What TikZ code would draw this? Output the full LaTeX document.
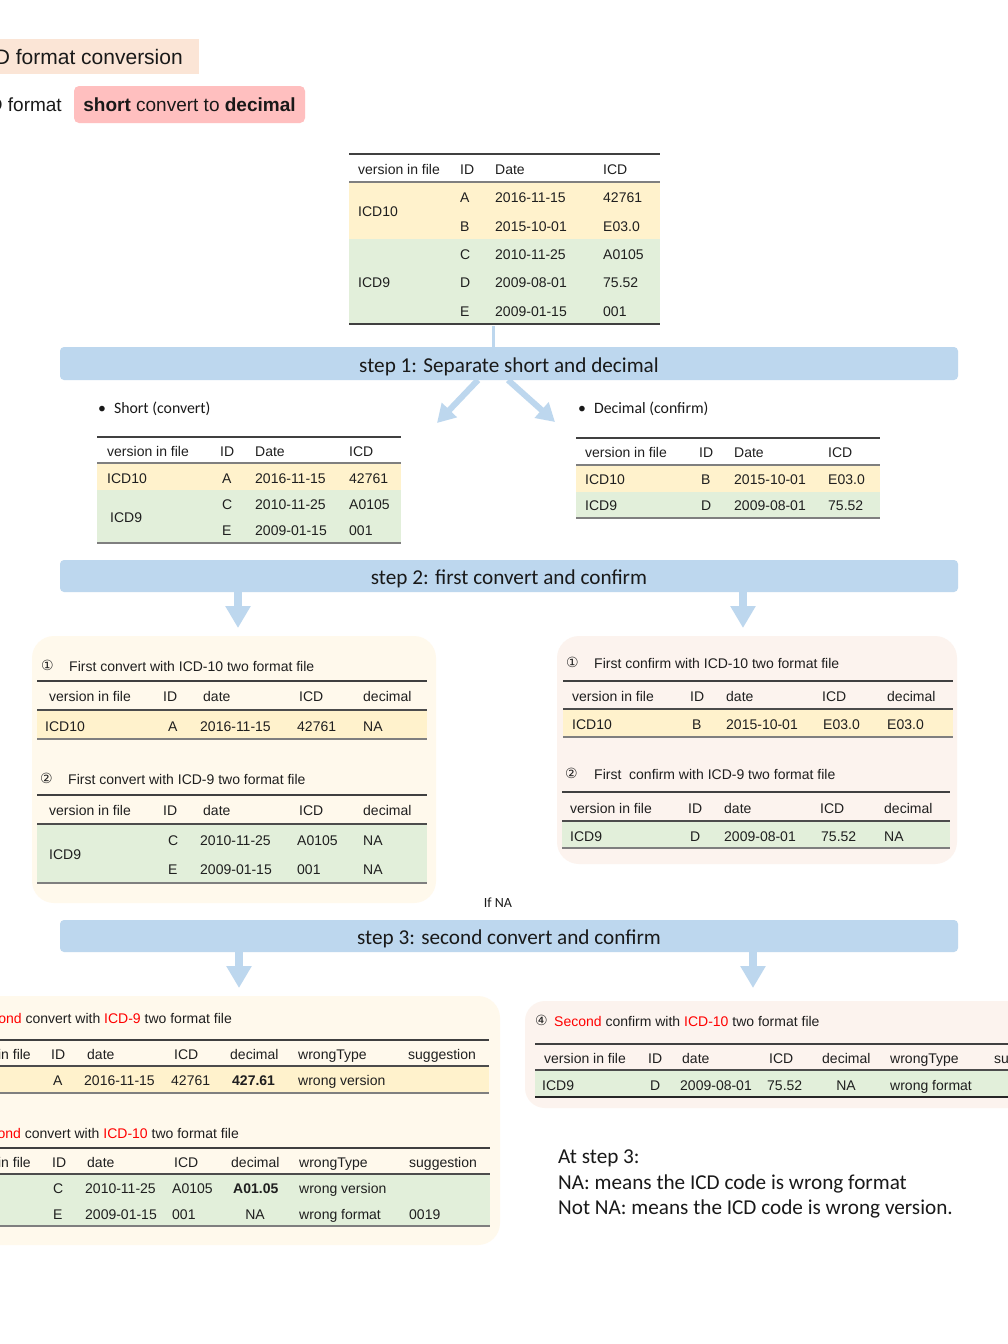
\documentclass[tikz,border=0pt]{standalone}
\usepackage{fontspec}
\setmainfont{Liberation Sans}
\newfontfamily\calfont{Carlito}
\newfontfamily\djfont{DejaVu Sans}
\usetikzlibrary{arrows.meta}
\definecolor{barblue}{HTML}{BDD7EE}
\definecolor{rowyel}{HTML}{FFF2CC}
\definecolor{rowgrn}{HTML}{E2EFDA}
\definecolor{panelcream}{HTML}{FFF9EC}
\definecolor{panelpeach}{HTML}{FCF3EE}
\definecolor{titlepeach}{HTML}{FBE5D6}
\definecolor{pinkbox}{HTML}{FFBFBF}
\definecolor{redtxt}{HTML}{FF0000}
\definecolor{ruledark}{HTML}{404040}
\definecolor{rulegray}{HTML}{7F7F7F}
\newcounter{cellno}
\newcommand\tc[3]{\stepcounter{cellno}\node[cell] (c\arabic{cellno}) at (#1,#2) {#3};}
\newcommand\tcc[3]{\stepcounter{cellno}\node[cell,anchor=center] (c\arabic{cellno}) at (#1,#2) {#3};}
\newcommand\tce[3]{\stepcounter{cellno}\node[cell,anchor=east] (c\arabic{cellno}) at (#1,#2) {#3};}
\newcommand\rd[1]{\textcolor{redtxt}{#1}}
\tikzset{
  cell/.style={anchor=west, inner sep=0pt, text height=10pt, text depth=0pt,
    font=\fontsize{14}{16}\selectfont, text=black!88},
  circ/.style={anchor=west, inner sep=0pt, text height=9pt, text depth=0pt,
    font=\djfont\fontsize{14}{16}\selectfont, text=black!85},
  toprule/.style={draw=ruledark, line width=1.3pt},
  headrule/.style={draw=black!70, line width=1.5pt},
  botrule/.style={draw=rulegray, line width=2.5pt},
  stepbar/.style={fill=barblue, rounded corners=4pt, minimum width=898pt,
    minimum height=33pt, inner sep=0pt, text height=17pt, text depth=0pt,
    font=\calfont\fontsize{21.2}{25}\selectfont, text=black!90},
  downarrow/.style={draw=barblue, line width=8pt, -{Triangle[width=24pt,length=22pt]}},
  diagarrow/.style={draw=barblue, line width=6pt, -{Triangle[width=20pt,length=18pt]}},
  bul/.style={anchor=west, inner sep=0pt, font=\calfont\fontsize{15.8}{18}\selectfont, text=black!90},
  note/.style={anchor=base west, inner sep=0pt, font=\calfont\fontsize{21.2}{25}\selectfont, text=black!90},
}
\begin{document}
\begin{tikzpicture}[x=1pt,y=-1pt]
\useasboundingbox (0,0) rectangle (1008,1344);
\clip (0,0) rectangle (1008,1344);
\fill[white] (0,0) rectangle (1008,1344);

% ---------- title ----------
\fill[titlepeach] (0,39) rectangle (199,74);
\node[anchor=base east, inner sep=0pt, font=\fontsize{21}{24}\selectfont, text=black!90] (title) at (183,64.5) {ICD format conversion};
\node[anchor=base east, inner sep=0pt, font=\fontsize{19}{22}\selectfont, text=black!90] (fmt) at (62,111) {ICD format};
\node[fill=pinkbox, rounded corners=5pt, minimum width=231pt, minimum height=37pt, inner sep=0pt,
  font=\fontsize{19}{22}\selectfont, text=black!90] (pink) at (189.5,104.5) {\textbf{short} convert to \textbf{decimal}};

% ---------- top table ----------
\fill[rowyel] (349,182) rectangle (660,239);
\fill[rowgrn] (349,239) rectangle (660,324);
\draw[toprule] (349,154) -- (660,154);
\draw[headrule,draw=rulegray] (349,182) -- (660,182);
\draw[botrule,draw=ruledark] (349,324) -- (660,324);
\tc{358}{169}{version in file}\tc{460}{169}{ID}\tc{495}{169}{Date}\tc{603}{169}{ICD}
\tc{358}{211}{ICD10}\tc{358}{282}{ICD9}
\tc{460}{197}{A}\tc{495}{197}{2016-11-15}\tc{603}{197}{42761}
\tc{460}{226}{B}\tc{495}{226}{2015-10-01}\tc{603}{226}{E03.0}
\tc{460}{254}{C}\tc{495}{254}{2010-11-25}\tc{603}{254}{A0105}
\tc{460}{282}{D}\tc{495}{282}{2009-08-01}\tc{603}{282}{75.52}
\tc{460}{311}{E}\tc{495}{311}{2009-01-15}\tc{603}{311}{001}

% ---------- step 1 ----------
\node[stepbar] (s1) at (509,363.5) {step 1: Separate short and decimal};
\coordinate (tblbot) at (493,326);
\draw[barblue, line width=3pt] (tblbot) -- (tblbot |- s1.north);
\coordinate (d1s) at (478,380);
\coordinate (d1t) at (437,423);
\coordinate (d2s) at (508,380);
\coordinate (d2t) at (555,422);
\draw[diagarrow] (d1s) -- (d1t);
\draw[diagarrow] (d2s) -- (d2t);
\node[bul] (b1) at (98,409) {\textbullet\hspace{8pt}Short (convert)};
\node[bul] (b2) at (578,409) {\textbullet\hspace{8pt}Decimal (confirm)};

% ---------- short table ----------
\fill[rowyel] (97,463) rectangle (401,490);
\fill[rowgrn] (97,490) rectangle (401,543);
\draw[toprule] (97,437) -- (401,437);
\draw[headrule,draw=rulegray] (97,463) -- (401,463);
\draw[botrule] (97,543) -- (401,543);
\tc{107}{451}{version in file}\tc{220}{451}{ID}\tc{255}{451}{Date}\tc{349}{451}{ICD}
\tc{107}{478}{ICD10}\tc{222}{478}{A}\tc{255}{478}{2016-11-15}\tc{349}{478}{42761}
\tc{110}{517}{ICD9}
\tc{222}{504}{C}\tc{255}{504}{2010-11-25}\tc{349}{504}{A0105}
\tc{222}{530}{E}\tc{255}{530}{2009-01-15}\tc{349}{530}{001}

% ---------- decimal table ----------
\fill[rowyel] (576,465) rectangle (880,492);
\fill[rowgrn] (576,492) rectangle (880,518);
\draw[toprule] (576,438) -- (880,438);
\draw[headrule,draw=rulegray] (576,465) -- (880,465);
\draw[botrule] (576,518) -- (880,518);
\tc{585}{452}{version in file}\tc{699}{452}{ID}\tc{734}{452}{Date}\tc{828}{452}{ICD}
\tc{585}{479}{ICD10}\tc{701}{479}{B}\tc{734}{479}{2015-10-01}\tc{828}{479}{E03.0}
\tc{585}{505}{ICD9}\tc{701}{505}{D}\tc{734}{505}{2009-08-01}\tc{828}{505}{75.52}

% ---------- step 2 ----------
\node[stepbar, minimum height=32pt] (s2) at (509,576) {step 2: first convert and confirm};
\coordinate (a2l) at (238,628);
\coordinate (a2r) at (743,628);
\draw[downarrow] (a2l |- s2.south) -- (a2l);
\draw[downarrow] (a2r |- s2.south) -- (a2r);

% ---------- left panel (step 2) ----------
\fill[panelcream, rounded corners=22pt] (32,636) rectangle (436,903);
\node[circ] (n1) at (41,666) {①};
\tc{69}{666}{First convert with ICD-10 two format file}
\fill[rowyel] (37,710) rectangle (427,739);
\draw[toprule] (37,681) -- (427,681);
\draw[headrule] (37,710) -- (427,710);
\draw[botrule] (37,739) -- (427,739);
\tc{49}{696}{version in file}\tc{163}{696}{ID}\tc{203}{696}{date}\tc{299}{696}{ICD}\tc{363}{696}{decimal}
\tc{45}{726}{ICD10}\tc{168}{726}{A}\tc{200}{726}{2016-11-15}\tc{297}{726}{42761}\tc{363}{726}{NA}
\node[circ] (n2) at (40,779) {②};
\tc{68}{779}{First convert with ICD-9 two format file}
\fill[rowgrn] (37,824) rectangle (427,883);
\draw[toprule] (37,795) -- (427,795);
\draw[headrule] (37,824) -- (427,824);
\draw[botrule] (37,883) -- (427,883);
\tc{49}{810}{version in file}\tc{163}{810}{ID}\tc{203}{810}{date}\tc{299}{810}{ICD}\tc{363}{810}{decimal}
\tc{49}{854}{ICD9}
\tc{168}{840}{C}\tc{200}{840}{2010-11-25}\tc{297}{840}{A0105}\tc{363}{840}{NA}
\tc{168}{869}{E}\tc{200}{869}{2009-01-15}\tc{297}{869}{001}\tc{363}{869}{NA}

% ---------- right panel (step 2) ----------
\fill[panelpeach, rounded corners=22pt] (557,636) rectangle (957,864);
\node[circ] (n3) at (566,663) {①};
\tc{594}{663}{First confirm with ICD-10 two format file}
\fill[rowyel] (563,709) rectangle (953,737);
\draw[toprule] (563,681) -- (953,681);
\draw[headrule] (563,709) -- (953,709);
\draw[botrule] (563,737) -- (953,737);
\tc{572}{696}{version in file}\tc{690}{696}{ID}\tc{726}{696}{date}\tc{822}{696}{ICD}\tc{887}{696}{decimal}
\tc{572}{724}{ICD10}\tc{692}{724}{B}\tc{726}{724}{2015-10-01}\tc{823}{724}{E03.0}\tc{887}{724}{E03.0}
\node[circ] (n4) at (565,774) {②};
\tc{594}{774}{First\ \ confirm with ICD-9 two format file}
\fill[rowgrn] (562,821) rectangle (950,848);
\draw[toprule] (562,792) -- (950,792);
\draw[headrule] (562,821) -- (950,821);
\draw[botrule] (562,848) -- (950,848);
\tc{570}{808}{version in file}\tc{688}{808}{ID}\tc{724}{808}{date}\tc{820}{808}{ICD}\tc{884}{808}{decimal}
\tc{570}{836}{ICD9}\tc{690}{836}{D}\tc{724}{836}{2009-08-01}\tc{821}{836}{75.52}\tc{884}{836}{NA}

% ---------- step 3 ----------
\node[font=\calfont\fontsize{14}{16}\selectfont, inner sep=0pt, text=black!90] (ifna) at (498,903) {If NA};
\node[stepbar, minimum height=32pt] (s3) at (509,936) {step 3: second convert and confirm};
\coordinate (a3l) at (239,988);
\coordinate (a3r) at (753,988);
\draw[downarrow] (a3l |- s3.south) -- (a3l);
\draw[downarrow] (a3r |- s3.south) -- (a3r);

% ---------- bottom-left panel ----------
\fill[panelcream, rounded corners=22pt] (-40,996) rectangle (500,1245);
\tce{232}{1018}{\rd{Second} convert with \rd{ICD-9} two format file}
\fill[rowyel] (-10,1066) rectangle (489,1093);
\draw[toprule] (-10,1040) -- (489,1040);
\draw[headrule] (-10,1066) -- (489,1066);
\draw[botrule] (-10,1093) -- (489,1093);
\tce{31}{1054}{version in file}\tc{51}{1054}{ID}\tc{87}{1054}{date}\tc{174}{1054}{ICD}\tc{230}{1054}{decimal}\tc{298}{1054}{wrongType}\tc{408}{1054}{suggestion}
\tc{53}{1080}{A}\tc{84}{1080}{2016-11-15}\tc{171}{1080}{42761}\tc{232}{1080}{\textbf{427.61}}\tc{298}{1080}{wrong version}
\tce{239}{1133}{\rd{Second} convert with \rd{ICD-10} two format file}
\fill[rowgrn] (-10,1174) rectangle (490,1226);
\draw[toprule] (-10,1148) -- (490,1148);
\draw[headrule] (-10,1174) -- (490,1174);
\draw[botrule] (-10,1226) -- (490,1226);
\tce{31}{1162}{version in file}\tc{52}{1162}{ID}\tc{87}{1162}{date}\tc{174}{1162}{ICD}\tc{231}{1162}{decimal}\tc{299}{1162}{wrongType}\tc{409}{1162}{suggestion}
\tc{53}{1188}{C}\tc{85}{1188}{2010-11-25}\tc{172}{1188}{A0105}\tc{233}{1188}{\textbf{A01.05}}\tc{299}{1188}{wrong version}
\tc{53}{1214}{E}\tc{85}{1214}{2009-01-15}\tc{172}{1214}{001}\tcc{255}{1214}{NA}\tc{299}{1214}{wrong format}\tc{409}{1214}{0019}

% ---------- bottom-right panel ----------
\fill[panelpeach, rounded corners=20pt] (525,1001) rectangle (1040,1108);
\node[circ] (n5) at (535,1021) {④};
\tc{554}{1021}{\rd{Second} confirm with \rd{ICD-10} two format file}
\fill[rowgrn] (535,1070) rectangle (1010,1097);
\draw[toprule] (535,1044) -- (1010,1044);
\draw[headrule] (535,1070) -- (1010,1070);
\draw[botrule,draw=black!85,line width=1.5pt] (535,1097) -- (1010,1097);
\tc{544}{1058}{version in file}\tc{648}{1058}{ID}\tc{682}{1058}{date}\tc{769}{1058}{ICD}\tc{822}{1058}{decimal}\tc{890}{1058}{wrongType}\tc{994}{1058}{suggestion}
\tc{542}{1085}{ICD9}\tc{650}{1085}{D}\tc{680}{1085}{2009-08-01}\tc{767}{1085}{75.52}\tcc{846}{1085}{NA}\tc{890}{1085}{wrong format}

% ---------- notes ----------
\node[note] (note1) at (558,1163) {At step 3:};
\node[note] (note2) at (558,1189) {NA: means the ICD code is wrong format};
\node[note] (note3) at (558,1214) {Not NA: means the ICD code is wrong version.};
\end{tikzpicture}
\end{document}
